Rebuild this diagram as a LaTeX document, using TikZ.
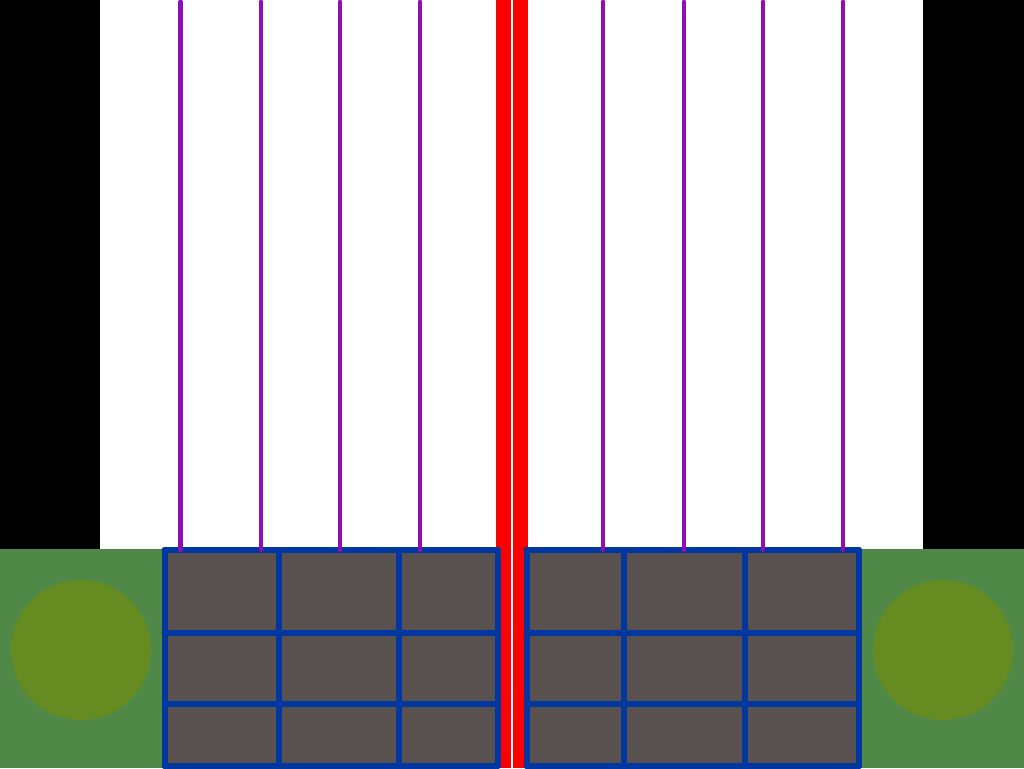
\documentclass[tikz,border=0pt]{standalone}
\usepackage{tikz}

\definecolor{grass}{RGB}{80,136,72}
\definecolor{bush}{RGB}{102,139,32}
\definecolor{slab}{RGB}{89,80,80}
\definecolor{joint}{RGB}{0,55,160}
\definecolor{rope}{RGB}{145,15,178}

\begin{document}
\begin{tikzpicture}[x=0.25mm,y=0.25mm,
    grid/.style={joint,line width=1.5mm,line cap=round},
    wire/.style={rope,line width=1.2mm,line cap=round}]
  \useasboundingbox (0,0) rectangle (1024,768);
  % backdrop
  \fill[black] (0,0) rectangle (1024,768);
  \fill[white] (100,219) rectangle (923,768);
  \fill[grass] (0,0) rectangle (1024,219);
  % bushes
  \fill[bush] (81,118) circle (70);
  \fill[bush] (943,118) circle (70);
  % paving blocks
  \fill[slab] (163,0) rectangle (498,219);
  \fill[slab] (526,0) rectangle (861,219);
  % red post with white gap
  \fill[red] (496,0) rectangle (528,768);
  \fill[white] (511.2,0) rectangle (512.8,768);
  % joints, left block
  \foreach \y in {2,135,64,218}
    \draw[grid] (164.5,\y) -- (497.5,\y);
  \foreach \x in {164.5,278.5,399,497.5}
    \draw[grid] (\x,2) -- (\x,218);
  % joints, right block
  \foreach \y in {2,135,64,218}
    \draw[grid] (526.5,\y) -- (859,\y);
  \foreach \x in {526.5,624,745,859}
    \draw[grid] (\x,2) -- (\x,218);
  % hanging wires
  \foreach \x in {180.5,261,340,420,603,684,763,843}
    \draw[wire] (\x,218) -- (\x,766);
\end{tikzpicture}
\end{document}
